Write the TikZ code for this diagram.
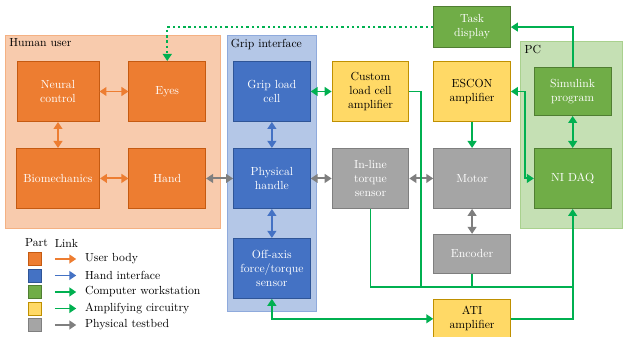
\documentclass[tikz,border=0pt]{standalone}
\usepackage{amsmath}
\usetikzlibrary{positioning}
\usetikzlibrary{calc}
\usetikzlibrary{backgrounds}
\usetikzlibrary{arrows.meta}
\definecolor{userfill}{HTML}{ED7D31}
\definecolor{userline}{HTML}{C55A11}
\definecolor{userbg}{HTML}{F8CBAD}
\definecolor{userbgline}{HTML}{F4B183}
\definecolor{gripfill}{HTML}{4472C4}
\definecolor{gripline}{HTML}{2F5597}
\definecolor{gripbg}{HTML}{B4C7E7}
\definecolor{gripbgline}{HTML}{8FAADC}
\definecolor{pcfill}{HTML}{70AD47}
\definecolor{pcline}{HTML}{507E32}
\definecolor{pcbg}{HTML}{C5E0B4}
\definecolor{pcbgline}{HTML}{A9D18E}
\definecolor{ampfill}{HTML}{FFD966}
\definecolor{ampline}{HTML}{BF9000}
\definecolor{testfill}{HTML}{A5A5A5}
\definecolor{testline}{HTML}{7F7F7F}
\definecolor{wirelink}{HTML}{00B050}
\definecolor{testlink}{HTML}{7F7F7F}
\tikzset{>={Triangle[length=6pt,width=7.5pt]}}
\tikzset{part/.style={draw, line width=0.8pt, minimum width=2.3cm, minimum height=1.8cm, align=center, text=white}}
\tikzset{userpart/.style={part, fill=userfill, draw=userline}}
\tikzset{grippart/.style={part, fill=gripfill, draw=gripline}}
\tikzset{pcpart/.style={part, fill=pcfill, draw=pcline}}
\tikzset{amppart/.style={part, fill=ampfill, draw=ampline, text=black}}
\tikzset{testpart/.style={part, fill=testfill, draw=testline}}
\tikzset{link/.style={line width=1.6pt}}
\tikzset{grp/.style={line width=0.8pt}}
\tikzset{grplabel/.style={anchor=north west, inner sep=3pt}}
\tikzset{swatch/.style={draw, line width=0.8pt, minimum size=0.39cm, inner sep=0pt}}

\begin{document}
\begin{tikzpicture}
        \useasboundingbox (0,0) rectangle (18.69,-10.11);

        % human user
        \node[userpart, minimum width=2.46cm] (neural) at (1.74,-2.745) {Neural\\control};
        \node[userpart] (eyes) [right=0.87 of neural] {Eyes};
        \node[userpart, minimum width=2.49cm] (biomech) [below=0.78 of neural] {Biomechanics};
        \node[userpart] (hand) [below=0.78 of eyes] {Hand};

        % grip interface
        \node[grippart] (grip) [right=0.81 of eyes] {Grip load\\cell};
        \node[grippart] (handle) [below=0.78 of grip] {Physical\\handle};
        \node[grippart] (offaxis) [below=0.87 of handle] {Off-axis\\force/torque\\sensor};

        % amplifiers and testbed
        \node[amppart] (custom) [right=0.63 of grip] {Custom\\load cell\\amplifier};
        \node[testpart] (inline) [below=0.78 of custom] {In-line\\torque\\sensor};
        \node[amppart] (escon) [right=0.72 of custom] {ESCON\\amplifier};
        \node[testpart] (motor) [below=0.78 of escon] {Motor};
        \node[pcpart, minimum height=1.23cm] (task) [above=0.39 of escon] {Task\\display};
        \node[testpart, minimum height=1.17cm] (encoder) [below=0.75 of motor] {Encoder};
        \node[amppart, minimum height=1.17cm] (ati) [below=0.75 of encoder] {ATI\\amplifier};

        % pc
        \node[pcpart, minimum height=1.44cm] (simulink) [right=0.69 of escon] {Simulink\\program};
        \node[pcpart] (daq) [right=0.69 of motor] {NI DAQ};

        \begin{scope}[on background layer]
            \draw[grp, fill=userbg, draw=userbgline] ($(neural.north west)+(-0.33,0.78)$) coordinate (userbox) rectangle ($(hand.south east)+(0.42,-0.6)$);
            \draw[grp, fill=gripbg, draw=gripbgline] ($(grip.north west)+(-0.18,0.78)$) coordinate (gripbox) rectangle ($(offaxis.south east)+(0.18,-0.39)$);
            \draw[grp, fill=pcbg, draw=pcbgline] ($(simulink.north west)+(-0.39,0.78)$) coordinate (pcbox) rectangle ($(daq.south east)+(0.33,-0.6)$);
        \end{scope}
        \node[grplabel] (userhead) at (userbox) {Human user};
        \node[grplabel] (griphead) at (gripbox) {Grip interface};
        \node[grplabel] (pchead) at (pcbox) {PC};

        % user body links
        \draw[link, userfill, <->] (neural) -- (eyes);
        \draw[link, userfill, <->] (neural) -- (biomech);
        \draw[link, userfill, <->] (biomech) -- (hand);

        % hand interface links
        \draw[link, gripfill, <->] (grip) -- (handle);
        \draw[link, gripfill, <->] (handle) -- (offaxis);

        % testbed links
        \draw[link, testlink, <->] (hand) -- (handle);
        \draw[link, testlink, <->] (handle) -- (inline);
        \draw[link, testlink, <->] (inline) -- (motor);
        \draw[link, testlink, <->] (motor) -- (encoder);

        % signal links
        \coordinate[below=0.39 of encoder.south] (bus);
        \draw[link, wirelink, <->] (grip) -- (custom);
        \draw[link, wirelink, ->] (escon) -- (motor);
        \draw[link, wirelink, <->] (simulink) -- (daq);
        \draw[link, wirelink, ->] (simulink.north) |- (task.east);
        \draw[link, wirelink, ->, dash pattern=on 2pt off 2.5pt] (task.west) -| (eyes.north);
        \draw[link, wirelink, <->] (escon.east) -- ++(0.42,0) |- (daq.west);
        \draw[link, wirelink, ->] (custom.east) -- ++(0.36,0) |- (bus) -| (daq.south);
        \draw[link, wirelink] (inline.south) |- (bus);
        \draw[link, wirelink] (encoder.south) -- (bus);
        \draw[link, wirelink, <->] (offaxis.south) |- (ati.west);
        \draw[link, wirelink] (ati.east) -| (bus -| daq.south);

        % legend
        \node (parthead) at (1.095,-7.29) {Part};
        \node (linkhead) at (1.995,-7.29) {Link};
        \foreach \pf/\pd/\lc/\txt [count=\i] in {userfill/userline/userfill/User body, gripfill/gripline/gripfill/Hand interface, pcfill/pcline/wirelink/Computer workstation, ampfill/ampline/wirelink/Amplifying circuitry, testfill/testline/testlink/Physical testbed} {
            \node[swatch, fill=\pf, draw=\pd] (swatch\i) at (1.035,{-7.77-0.495*(\i-1)}) {};
            \coordinate (tail\i) at (1.65,{-7.77-0.495*(\i-1)});
            \node[anchor=west] (entry\i) at (2.43,{-7.77-0.495*(\i-1)}) {\txt};
            \draw[link, \lc, ->, shorten >=4pt] (tail\i) -- (entry\i.west);
        }
    \end{tikzpicture}
\end{document}
